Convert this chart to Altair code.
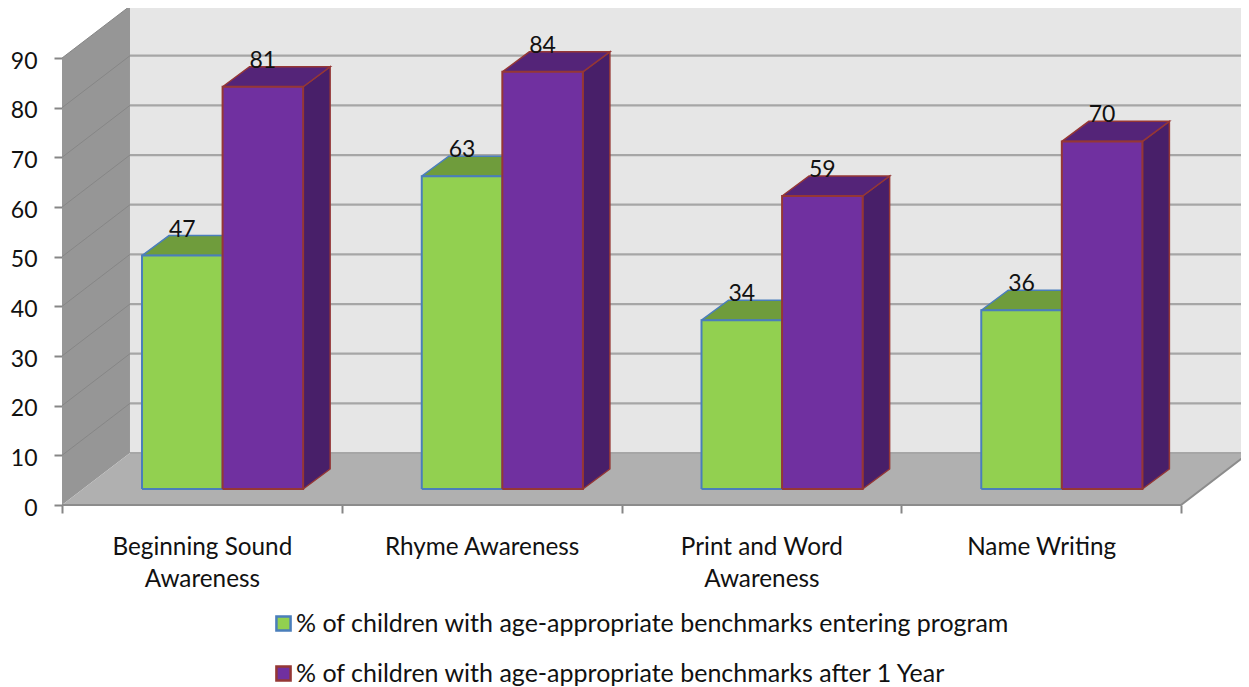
import json
import altair as alt
import pandas as pd

categories = [["Beginning Sound", "Awareness"], ["Rhyme Awareness"], ["Print and Word", "Awareness"], ["Name Writing"]]
series = ["% of children with age-appropriate benchmarks entering program",
          "% of children with age-appropriate benchmarks after 1 Year"]
entering = [47, 63, 34, 36]
after_year = [81, 84, 59, 70]
y_ticks = [0, 10, 20, 30, 40, 50, 60, 70, 80, 90]

# projection of the 3-D box, in data units
WALL_DX, WALL_DY = 0.243, 10.47
BAR_DX, BAR_DY = 0.0965, 4.03
BASE = 3.22
GROUP_START, BAR_W = 0.286, 0.288
X_END = 4.0 + WALL_DX
Y_END = 100.08
PLOT_W = 1179
X_DOMAIN_END = PLOT_W / 279.75

FONT = "Lato"
xs = alt.Scale(domain=[0, X_DOMAIN_END], nice=False, zero=False)
ys = alt.Scale(domain=[0, Y_END], nice=False, zero=False)

labels_expr = "".join(
    f"datum.value=={i + 0.5}?{json.dumps(c)}:" for i, c in enumerate(categories)) + "''"
x_axis = alt.Axis(
    values=[v / 2 for v in range(9)], domain=False, grid=False, title=None, labelExpr=labels_expr,
    labelAngle=0, labelFont=FONT, labelFontSize=24.3, labelColor="#111111", labelLineHeight=32,
    labelOverlap=False, labelBound=False, labelFlush=False, labelPadding=22, labelBaseline="top",
    labelLimit=1000, tickSize=8, tickWidth=2, tickColor="#868686",
    tickOpacity=alt.condition("datum.value % 1 == 0", alt.value(1), alt.value(0)))
y_axis = alt.Axis(
    values=y_ticks, domain=False, grid=False, title=None, labelFont=FONT, labelFontSize=23,
    labelColor="#111111", labelPadding=17, labelOffset=3, tickSize=8, tickWidth=2, tickColor="#868686")

X = lambda f="x:Q": alt.X(f, scale=xs, axis=x_axis)
Y = lambda f="y:Q": alt.Y(f, scale=ys, axis=y_axis)


def poly(points, fill, stroke=None, sw=0):
    rows = [{"x": p[0], "y": p[1], "i": k} for k, p in enumerate(points + [points[0]])]
    kw = {"fill": fill, "strokeWidth": sw, "stroke": stroke or fill}
    return alt.Chart(pd.DataFrame(rows)).mark_line(clip=False, **kw).encode(x=X(), y=Y(), order="i:Q")


def seg(rows, color, sw):
    return alt.Chart(pd.DataFrame(rows)).mark_line(color=color, strokeWidth=sw).encode(
        x=X(), y=Y(), detail="g:N", order="i:Q")


layers = [
    poly([(WALL_DX, WALL_DY), (X_END, WALL_DY), (X_END, 90 + WALL_DY), (WALL_DX, 90 + WALL_DY)], "#e6e6e6"),
    poly([(0, 0), (WALL_DX, WALL_DY), (WALL_DX, 90 + WALL_DY), (0, 90)], "#969696"),
    poly([(0, 0), (4, 0), (X_END, WALL_DY), (WALL_DX, WALL_DY)], "#b0b0b0"),
]

back, side = [], []
for t in y_ticks[1:]:
    back += [{"g": t, "i": 0, "x": WALL_DX, "y": t + WALL_DY}, {"g": t, "i": 1, "x": X_END, "y": t + WALL_DY}]
    side += [{"g": t, "i": 0, "x": 0, "y": t}, {"g": t, "i": 1, "x": WALL_DX, "y": t + WALL_DY}]
layers.append(seg(back, "#a6a6a6", 2.2))
layers.append(seg(side, "#868686", 1))
layers.append(seg([{"g": 0, "i": 0, "x": WALL_DX, "y": WALL_DY}, {"g": 0, "i": 1, "x": X_END, "y": WALL_DY}], "#a6a6a6", 2))
layers.append(seg([{"g": 0, "i": 0, "x": 0, "y": 0}, {"g": 0, "i": 1, "x": 4, "y": 0},
                   {"g": 0, "i": 2, "x": X_END, "y": WALL_DY}], "#8c8c8c", 2))

styles = [
    {"front": "#92d050", "top": "#6f9c3c", "side": "#5f8a33", "line": "#4a7ebb"},
    {"front": "#7030a0", "top": "#542478", "side": "#481f69", "line": "#953735"},
]

# hidden points (behind the bars) carry the legend
marks = pd.DataFrame([
    {"x": i + GROUP_START + (s + 0.5) * BAR_W, "y": BASE + v / 2, "series": series[s], "v": v, "ty": BASE + v}
    for s, vals in enumerate([entering, after_year]) for i, v in enumerate(vals)])
layers.append(alt.Chart(marks).mark_point(shape="square", filled=True, opacity=1, size=4).encode(
    x=X(), y=Y(),
    fill=alt.Fill("series:N", scale=alt.Scale(domain=series, range=[s["front"] for s in styles]), legend=alt.Legend(
        orient="none", legendX=209, legendY=603, title=None, direction="vertical", columns=1,
        symbolType="square", symbolSize=200, symbolStrokeWidth=2.5, rowPadding=24, labelFont=FONT,
        labelFontSize=25, labelColor="#111111", labelLimit=1000, labelOffset=0, symbolOpacity=1)),
    stroke=alt.Stroke("series:N", scale=alt.Scale(domain=series, range=[s["line"] for s in styles]))))

for s, vals in enumerate([entering, after_year]):
    st = styles[s]
    for i, v in enumerate(vals):
        x0 = i + GROUP_START + s * BAR_W
        x1 = x0 + BAR_W
        top = BASE + v
        layers.append(poly([(x1, BASE), (x1 + BAR_DX, BASE + BAR_DY), (x1 + BAR_DX, top + BAR_DY), (x1, top)],
                           st["side"], st["line"], 1.5))
        layers.append(poly([(x0, top), (x1, top), (x1 + BAR_DX, top + BAR_DY), (x0 + BAR_DX, top + BAR_DY)],
                           st["top"], st["line"], 1.5))
        layers.append(poly([(x0, BASE), (x1, BASE), (x1, top), (x0, top)], st["front"], st["line"], 2))

layers.append(alt.Chart(marks).mark_text(font=FONT, fontSize=23, color="#111111", dy=-26, baseline="middle").encode(
    x=X(), y=Y("ty:Q"), text="v:Q"))

chart = alt.layer(*layers).properties(
    width=PLOT_W, height=497, background="white",
    padding={"left": 54, "top": 0, "right": 0, "bottom": 181},
    autosize=alt.AutoSizeParams(type="none"),
).configure_view(stroke=None)
chart.save("out.html", embed_options={"renderer": "svg", "actions": False})
